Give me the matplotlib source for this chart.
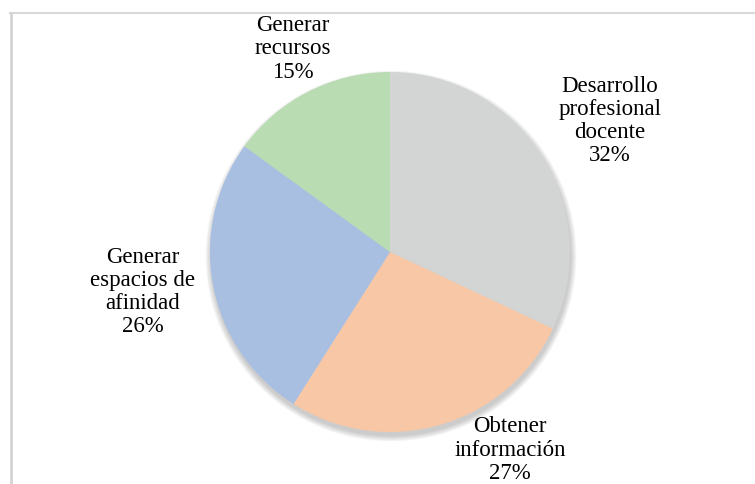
import matplotlib
matplotlib.use('Agg')
import matplotlib.pyplot as plt
import matplotlib.patches as mpatches
from matplotlib.lines import Line2D

labels = ['Desarrollo\nprofesional\ndocente', 'Obtener\ninformación',
          'Generar\nespacios de\nafinidad', 'Generar\nrecursos']
values = [32, 27, 26, 15]
colors = ['#d3d4d4', '#f8c7a5', '#a9bfe2', '#b9dcb3']

# label centres in pixels (x from left, y from top)
label_pos = [(610, 121), (510, 450), (143, 292), (293, 49)]

W, H = 755, 484
cx, cy, r = 390, 252, 180

fig = plt.figure(figsize=(W / 100, H / 100), dpi=100)
ax = fig.add_axes([0, 0, 1, 1])

# soft shadow, a bit lower than the pie
for i in range(12):
    ax.add_patch(mpatches.Circle((cx + 1, H - cy - 4), r + 0.5 * i,
                                 color='#707070', alpha=0.03, lw=0, zorder=1))

ax.pie(values, colors=colors, startangle=90, counterclock=False,
       center=(cx, H - cy), radius=r, frame=True,
       wedgeprops=dict(linewidth=0, zorder=2))
ax.set_xlim(0, W)
ax.set_ylim(0, H)
ax.set_aspect('equal')
ax.axis('off')

for lab, v, (x, y) in zip(labels, values, label_pos):
    ax.text(x, H - y, f'{lab}\n{v}%', ha='center', va='center',
            family='Liberation Serif', fontsize=16.5, linespacing=1.14,
            color='black', zorder=5)

# frame lines
fig.add_artist(Line2D([10 / W, 1], [1 - 13 / H, 1 - 13 / H], color='#d9d9d9', lw=1.5))
fig.add_artist(Line2D([10.5 / W, 10.5 / W], [0, 1 - 13 / H], color='#d4d4d4', lw=2))

fig.savefig('out.png', dpi=100)
